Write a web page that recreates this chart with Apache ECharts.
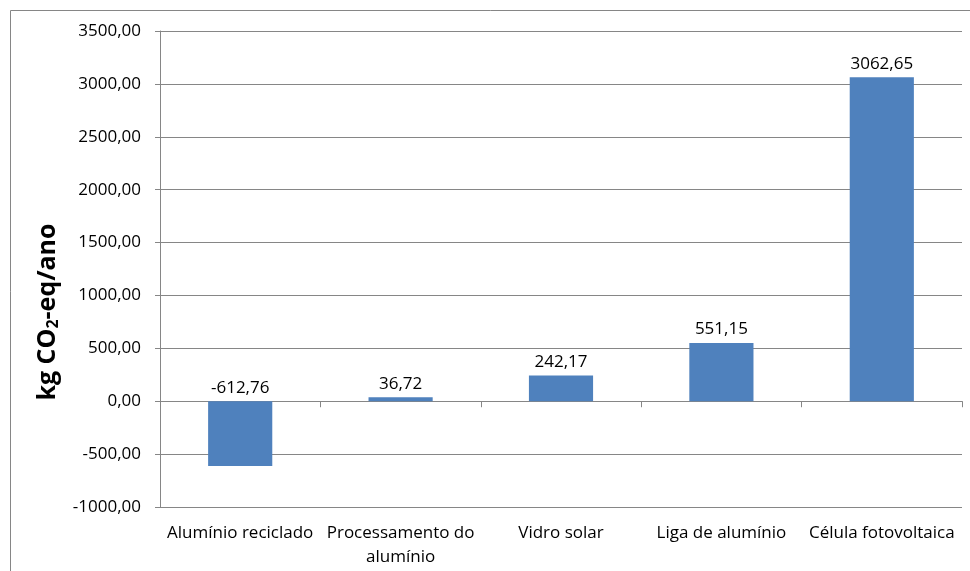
<!DOCTYPE html>
<html>
<head>
<meta charset="utf-8">
<script src="https://cdn.jsdelivr.net/npm/echarts@6/dist/echarts.min.js"></script>
<style>
  html, body { margin: 0; padding: 0; background: #fff; }
  #chart { width: 970px; height: 571px; }
</style>
</head>
<body>
<div id="chart"></div>
<script>
// Emissões anuais por componente (kg CO2-eq/ano)
const categories = ['Alumínio reciclado', 'Processamento do\nalumínio', 'Vidro solar', 'Liga de alumínio', 'Célula fotovoltaica'];
const values = [-612.76, 36.72, 242.17, 551.15, 3062.65];
const yMin = -1000, yMax = 3500, yStep = 500;

const FONT = 'Open Sans';
const fmt = v => v.toFixed(2).replace('.', ',');

const chart = echarts.init(document.getElementById('chart'), null, { renderer: 'canvas' });

chart.setOption({
  animation: false,
  backgroundColor: '#fff',
  textStyle: { fontFamily: FONT },
  grid: { left: 160, right: 8, top: 31, bottom: 64, containLabel: false },
  xAxis: [
    {
      // category labels along the bottom of the plot
      type: 'category',
      data: categories,
      position: 'bottom',
      axisLine: { show: false, onZero: false },
      axisTick: { show: false },
      axisLabel: { interval: 0, fontFamily: FONT, fontSize: 17, color: '#000', margin: 14, lineHeight: 24 }
    },
    {
      // axis line and ticks drawn at zero
      type: 'category',
      data: categories,
      position: 'bottom',
      axisLine: { show: true, onZero: true, lineStyle: { color: '#868686', width: 1 } },
      axisTick: { show: true, interval: 0, length: 6, lineStyle: { color: '#868686' } },
      axisLabel: { show: false }
    }
  ],
  yAxis: {
    type: 'value',
    min: yMin, max: yMax, interval: yStep,
    axisLine: { show: true, lineStyle: { color: '#868686', width: 1 } },
    axisTick: { show: true, length: 5, lineStyle: { color: '#868686' } },
    splitLine: { lineStyle: { color: '#868686', width: 1 } },
    axisLabel: { fontFamily: FONT, fontSize: 17, color: '#000', margin: 19, formatter: v => fmt(v) }
  },
  series: [{
    type: 'bar',
    data: values,
    xAxisIndex: 0,
    barWidth: '40%',
    itemStyle: { color: '#4F81BD' },
    label: {
      show: true,
      position: 'top',
      distance: 5,
      fontFamily: FONT, fontSize: 17, color: '#000',
      formatter: p => fmt(p.value)
    }
  }],
  graphic: [
    {
      type: 'rect',
      shape: { x: 10.5, y: 10.5, width: 1000, height: 1000 },
      style: { fill: null, stroke: '#868686', lineWidth: 1 },
      silent: true, z: -1
    },
    {
      type: 'text',
      x: 48, y: 312,
      rotation: Math.PI / 2,
      style: {
        text: '{m|kg CO}{s|2}{m|-eq/ano}',
        align: 'center',
        verticalAlign: 'middle',
        rich: {
          m: { fontFamily: FONT, fontSize: 25, fontWeight: 'bold', fill: '#000' },
          s: { fontFamily: FONT, fontSize: 16, fontWeight: 'bold', fill: '#000', padding: [11, 0, 0, 0] }
        }
      }
    }
  ]
});
</script>
</body>
</html>
